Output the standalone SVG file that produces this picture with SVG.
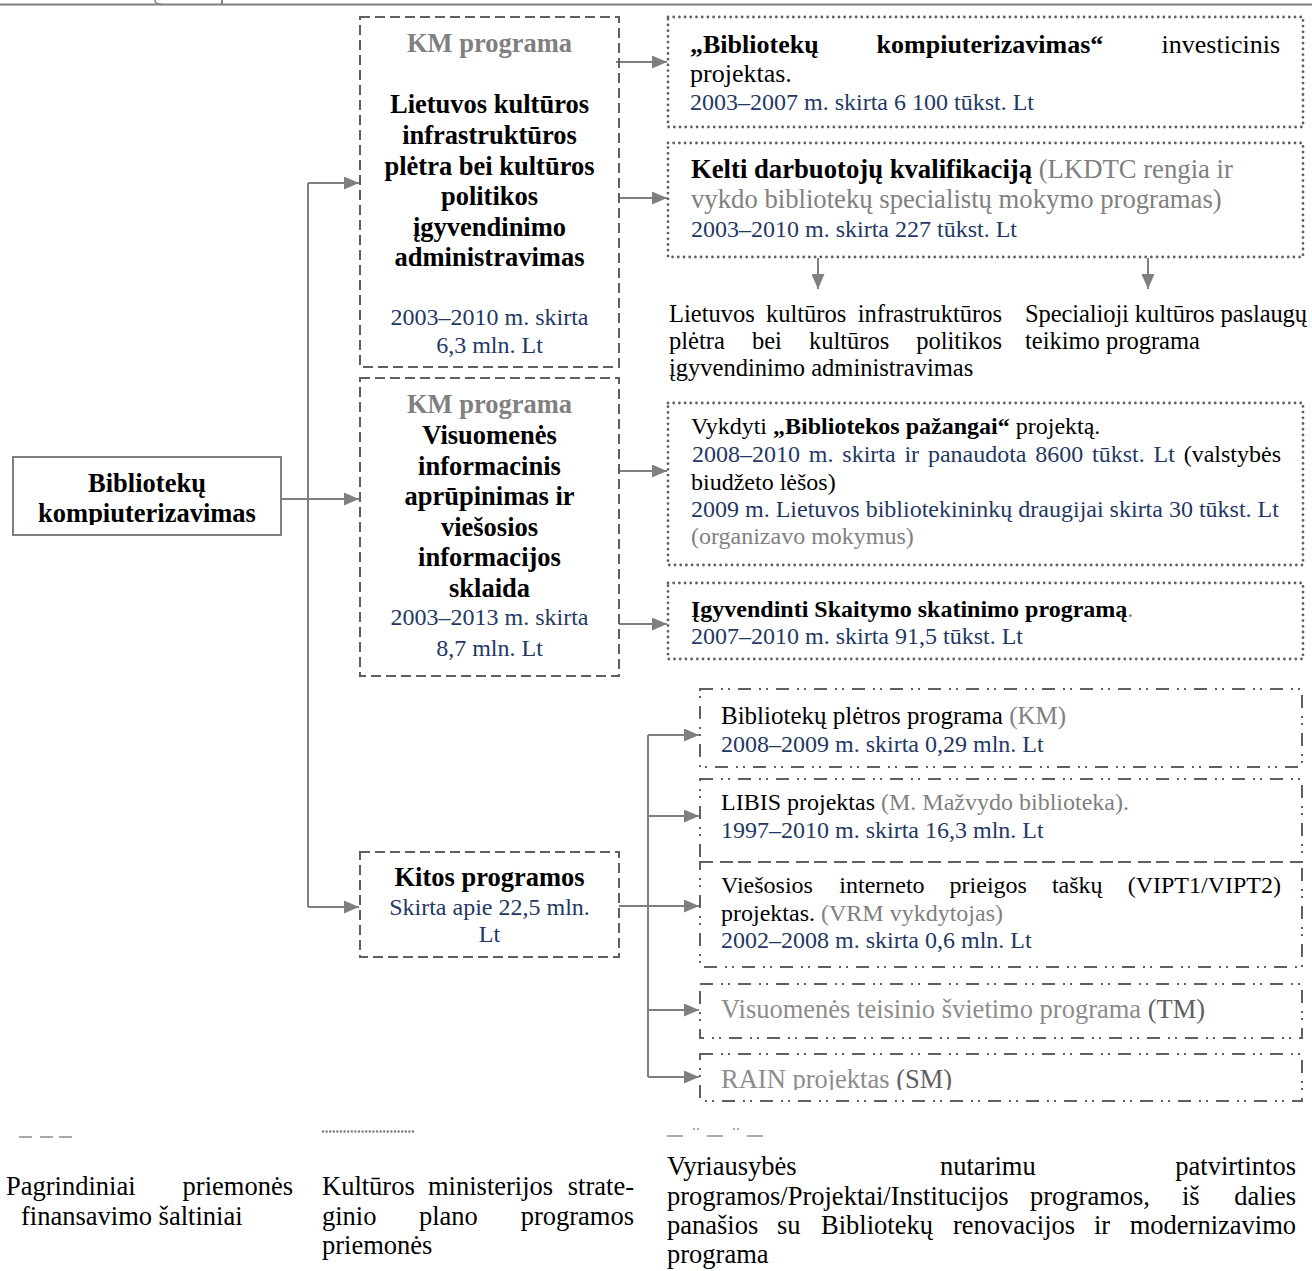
<svg xmlns="http://www.w3.org/2000/svg" width="1312" height="1271" viewBox="0 0 1312 1271">
<defs>
<style>
text{font-family:"Liberation Serif","Times New Roman",serif;fill:#000}
.b{font-weight:bold}
.g{fill:#808080}
.g2{fill:#8c8c8c}
.g3{fill:#5f5f5f}
.n{fill:#1f3864}
.m{text-anchor:middle}
.e{text-anchor:end}
.f24{font-size:24px}
.f245{font-size:24.5px}
.f25{font-size:25px}
.f26{font-size:26px}
.f265{font-size:26.5px}
.f267{font-size:26.7px}
.dash{fill:none;stroke:#5f5f5f;stroke-width:2;stroke-dasharray:10 5}
.dot{fill:none;stroke:#606060;stroke-width:2.8;stroke-dasharray:0 5.7;stroke-linecap:round}
.dd{fill:none;stroke:#606060;stroke-width:2;stroke-dasharray:13 8 2 5 2 8}
.solid{fill:#fff;stroke:#7f7f7f;stroke-width:2}
.con{fill:none;stroke:#7f7f7f;stroke-width:2}
.arr{fill:none;stroke:#7f7f7f;stroke-width:2;marker-end:url(#ah)}
</style>
<marker id="ah" markerWidth="15" markerHeight="13" refX="15" refY="6.5" orient="auto" markerUnits="userSpaceOnUse">
<path d="M0,0 L15,6.5 L0,13 z" fill="#7f7f7f"/>
</marker>
<clipPath id="clipL"><rect x="0" y="440" width="300" height="85"/></clipPath>
<clipPath id="clipR"><rect x="690" y="1050" width="620" height="40"/></clipPath>
</defs>
<rect width="1312" height="1271" fill="#fff"/>

<g id="page-top">
<line x1="0" y1="4.5" x2="1312" y2="4.5" stroke="#7f7f7f" stroke-width="2"/>
<path d="M162,4.5 Q155,4.5 155,0" fill="none" stroke="#7f7f7f" stroke-width="1.5"/>
<line x1="222" y1="0" x2="222" y2="4.5" stroke="#7f7f7f" stroke-width="2"/>
</g>

<g id="connectors">
<path class="arr" d="M281,499 H359"/>
<path class="con" d="M308,183 V907"/>
<path class="arr" d="M308,183 H359"/>
<path class="arr" d="M308,907 H359"/>
<path class="arr" d="M616,62 H667"/>
<path class="arr" d="M619,198 H667"/>
<path class="arr" d="M619,471 H667"/>
<path class="arr" d="M619,624 H667"/>
<path class="con" d="M619,906 H648"/>
<path class="con" d="M648,735 V1077"/>
<path class="arr" d="M648,735 H699"/>
<path class="arr" d="M648,816 H699"/>
<path class="arr" d="M648,906 H699"/>
<path class="arr" d="M648,1010 H699"/>
<path class="arr" d="M648,1077 H699"/>
<path class="arr" d="M818,258 V289"/>
<path class="arr" d="M1148,258 V289"/>
</g>

<g id="node-root">
<rect class="solid" x="13" y="457" width="268" height="78"/>
<g clip-path="url(#clipL)">
<text class="b f265 m" x="147" y="492">Bibliotekų</text>
<text class="b f265 m" x="147" y="522">kompiuterizavimas</text>
</g>
</g>

<g id="node-km1">
<rect class="dash" x="360" y="17" width="259" height="350"/>
<text class="b f265 m g" x="489.5" y="52">KM programa</text>
<text class="b f265 m" x="489.5" y="113">Lietuvos kultūros</text>
<text class="b f265 m" x="489.5" y="144">infrastruktūros</text>
<text class="b f265 m" x="489.5" y="174.5">plėtra bei kultūros</text>
<text class="b f265 m" x="489.5" y="205">politikos</text>
<text class="b f265 m" x="489.5" y="235.5">įgyvendinimo</text>
<text class="b f265 m" x="489.5" y="266">administravimas</text>
<text class="f24 m n" x="489.5" y="325">2003–2010 m. skirta</text>
<text class="f24 m n" x="489.5" y="353">6,3 mln. Lt</text>
</g>

<g id="node-km2">
<rect class="dash" x="360" y="378" width="259" height="298"/>
<text class="b f265 m g" x="489.5" y="413">KM programa</text>
<text class="b f265 m" x="489.5" y="444">Visuomenės</text>
<text class="b f265 m" x="489.5" y="474.5">informacinis</text>
<text class="b f265 m" x="489.5" y="505">aprūpinimas ir</text>
<text class="b f265 m" x="489.5" y="535.5">viešosios</text>
<text class="b f265 m" x="489.5" y="566">informacijos</text>
<text class="b f265 m" x="489.5" y="596.5">sklaida</text>
<text class="f24 m n" x="489.5" y="625">2003–2013 m. skirta</text>
<text class="f24 m n" x="489.5" y="656">8,7 mln. Lt</text>
</g>

<g id="node-kitos">
<rect class="dash" x="360" y="852" width="259" height="105"/>
<text class="b f265 m" x="489.5" y="886">Kitos programos</text>
<text class="f24 m n" x="489.5" y="915">Skirta apie 22,5 mln.</text>
<text class="f24 m n" x="489.5" y="942">Lt</text>
</g>

<g id="node-d1">
<rect class="dot" x="668" y="17" width="635" height="110"/>
<text class="b f26" x="690" y="53">„Bibliotekų</text>
<text class="b f26" x="876.6" y="53">kompiuterizavimas“</text>
<text class="f26 e" x="1280" y="53">investicinis</text>
<text class="f26" x="690" y="82">projektas.</text>
<text class="f24 n" x="690" y="110">2003–2007 m. skirta 6 100 tūkst. Lt</text>
</g>

<g id="node-d2">
<rect class="dot" x="668" y="143" width="635" height="114"/>
<text class="f267" x="691" y="178"><tspan class="b">Kelti darbuotojų kvalifikaciją</tspan><tspan class="g"> (LKDTC rengia ir</tspan></text>
<text class="f267 g" x="691" y="208">vykdo bibliotekų specialistų mokymo programas)</text>
<text class="f24 n" x="691" y="237">2003–2010 m. skirta 227 tūkst. Lt</text>
</g>

<g id="node-lkipa">
<text class="f245" x="669" y="322">Lietuvos</text>
<text class="f245" x="766" y="322">kultūros</text>
<text class="f245 e" x="1002" y="322">infrastruktūros</text>
<text class="f245" x="669" y="349">plėtra</text>
<text class="f245" x="752" y="349">bei</text>
<text class="f245" x="809" y="349">kultūros</text>
<text class="f245 e" x="1002" y="349">politikos</text>
<text class="f245" x="669" y="376">įgyvendinimo administravimas</text>
</g>

<g id="node-skptp">
<text class="f245" x="1025" y="322" textLength="282" lengthAdjust="spacing">Specialioji kultūros paslaugų</text>
<text class="f245" x="1025" y="349">teikimo programa</text>
</g>

<g id="node-d3">
<rect class="dot" x="668" y="403" width="635" height="162"/>
<text class="f24" x="691" y="434">Vykdyti <tspan class="b">„Bibliotekos pažangai“</tspan> projektą.</text>
<text class="n f24" x="692" y="462">2008–2010</text>
<text class="n f24" x="808.8" y="462">m.</text>
<text class="n f24" x="842.3" y="462">skirta</text>
<text class="n f24" x="904.4" y="462">ir</text>
<text class="n f24" x="927.9" y="462">panaudota</text>
<text class="n f24" x="1035.3" y="462">8600</text>
<text class="n f24" x="1092.1" y="462">tūkst.</text>
<text class="n f24" x="1153.6" y="462">Lt</text>
<text class="f24 e" x="1281" y="462">(valstybės</text>
<text class="f24" x="691" y="490">biudžeto lėšos)</text>
<text class="f24 n" x="691" y="517">2009 m. Lietuvos bibliotekininkų draugijai skirta 30 tūkst. Lt</text>
<text class="f24 g" x="691" y="544">(organizavo mokymus)</text>
</g>

<g id="node-d4">
<rect class="dot" x="668" y="583" width="635" height="76"/>
<text class="f24" x="691" y="617"><tspan class="b">Įgyvendinti Skaitymo skatinimo programą</tspan><tspan class="g">.</tspan></text>
<text class="f24 n" x="691" y="644">2007–2010 m. skirta 91,5 tūkst. Lt</text>
</g>

<g id="node-e1">
<rect class="dd" x="700" y="689" width="602" height="78"/>
<text class="f25" x="721" y="724">Bibliotekų plėtros programa <tspan class="g">(KM)</tspan></text>
<text class="f24 n" x="721" y="752">2008–2009 m. skirta 0,29 mln. Lt</text>
</g>

<g id="node-e2">
<rect class="dd" x="700" y="779" width="602" height="83"/>
<text class="f24" x="721" y="810">LIBIS projektas <tspan class="g">(M. Mažvydo biblioteka).</tspan></text>
<text class="f24 n" x="721" y="838">1997–2010 m. skirta 16,3 mln. Lt</text>
</g>

<g id="node-e3">
<rect class="dd" x="700" y="862" width="602" height="105"/>
<text class="f24" x="721" y="893">Viešosios</text>
<text class="f24" x="839.3" y="893">interneto</text>
<text class="f24" x="949.6" y="893">prieigos</text>
<text class="f24" x="1051.9" y="893">taškų</text>
<text class="f24 e" x="1281" y="893">(VIPT1/VIPT2)</text>
<text class="f24" x="721" y="921">projektas. <tspan class="g">(VRM vykdytojas)</tspan></text>
<text class="f24 n" x="721" y="948">2002–2008 m. skirta 0,6 mln. Lt</text>
</g>

<g id="node-e4">
<rect class="dd" x="700" y="984" width="602" height="54"/>
<text class="f265 g2" x="721" y="1018">Visuomenės teisinio švietimo programa <tspan class="g3">(TM)</tspan></text>
</g>

<g id="node-e5">
<rect class="dd" x="700" y="1054" width="602" height="47"/>
<g clip-path="url(#clipR)">
<text class="f265 g2" x="721" y="1088">RAIN projektas <tspan class="g3">(SM)</tspan></text>
</g>
</g>

<g id="legend">
<g stroke="#8c8c8c" stroke-width="1.5">
<line x1="19" y1="1137" x2="32" y2="1137"/>
<line x1="40" y1="1137" x2="53" y2="1137"/>
<line x1="59" y1="1137" x2="72" y2="1137"/>
<line x1="667" y1="1136" x2="683" y2="1136"/>
<line x1="707" y1="1136" x2="723" y2="1136"/>
<line x1="747" y1="1136" x2="763" y2="1136"/>
</g>
<line x1="323" y1="1131.5" x2="413" y2="1131.5" stroke="#7a7a7a" stroke-dasharray="0 3.6" stroke-linecap="round" stroke-width="2.4"/>
<g fill="#8c8c8c">
<circle cx="694" cy="1129" r="1"/><circle cx="698" cy="1129" r="1"/>
<circle cx="734" cy="1129" r="1"/><circle cx="738" cy="1129" r="1"/>
</g>
<text class="f265" x="6" y="1195">Pagrindiniai</text>
<text class="f265 e" x="293" y="1195">priemonės</text>
<text class="f265" x="21" y="1225">finansavimo šaltiniai</text>

<text class="f265" x="322" y="1195">Kultūros</text>
<text class="f265" x="428" y="1195">ministerijos</text>
<text class="f265 e" x="634" y="1195">strate-</text>
<text class="f265" x="322" y="1225">ginio</text>
<text class="f265" x="419" y="1225">plano</text>
<text class="f265 e" x="634" y="1225">programos</text>
<text class="f265" x="322" y="1254">priemonės</text>

<text class="f265" x="667" y="1175">Vyriausybės</text>
<text class="f265" x="940" y="1175">nutarimu</text>
<text class="f265 e" x="1296" y="1175">patvirtintos</text>
<text class="f265" x="667" y="1205">programos/Projektai/Institucijos</text>
<text class="f265" x="1030" y="1205">programos,</text>
<text class="f265" x="1182" y="1205">iš</text>
<text class="f265 e" x="1296" y="1205">dalies</text>
<text class="f265" x="667" y="1234">panašios</text>
<text class="f265" x="777" y="1234">su</text>
<text class="f265" x="821" y="1234">Bibliotekų</text>
<text class="f265" x="953" y="1234">renovacijos</text>
<text class="f265" x="1094" y="1234">ir</text>
<text class="f265 e" x="1296" y="1234">modernizavimo</text>
<text class="f265" x="667" y="1263">programa</text>
</g>
</svg>
